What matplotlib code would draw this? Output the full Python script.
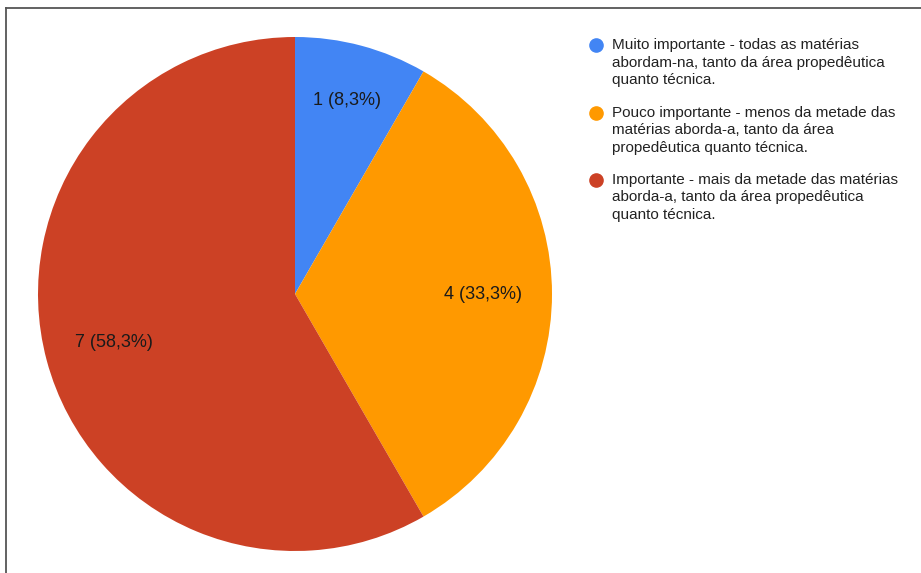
import matplotlib
matplotlib.use("Agg")
from matplotlib import pyplot as plt
from matplotlib.lines import Line2D

plt.rcParams['font.family'] = ['Liberation Sans', 'DejaVu Sans']

# respostas por nível de abordagem
categories = [
    ["Muito importante - todas as matérias",
     "abordam-na, tanto da área propedêutica",
     "quanto técnica."],
    ["Pouco importante - menos da metade das",
     "matérias aborda-a, tanto da área",
     "propedêutica quanto técnica."],
    ["Importante - mais da metade das matérias",
     "aborda-a, tanto da área propedêutica",
     "quanto técnica."],
]
counts = [1, 4, 7]
colors = ["#4285F4", "#FF9900", "#CC4125"]

W, H = 921, 573
fig = plt.figure(figsize=(W / 100, H / 100), dpi=100)

# moldura (só aparecem o topo e a esquerda)
fig.add_artist(Line2D([6 / W, 6 / W], [0, 1 - 8 / H], color="#555555", lw=1.3))
fig.add_artist(Line2D([6 / W, 1], [1 - 8 / H, 1 - 8 / H], color="#555555", lw=1.3))

cx, cy, r = 295, 294, 257
ax = fig.add_axes([(cx - r) / W, (H - cy - r) / H, 2 * r / W, 2 * r / H])
total = sum(counts)


def fmt(pct):
    n = int(round(pct * total / 100))
    return f"{n} ({pct:.1f}%)".replace(".", ",")


wedges, texts, autotexts = ax.pie(
    counts, colors=colors, startangle=90, counterclock=False,
    autopct=fmt, pctdistance=0.73, radius=1,
    textprops=dict(fontsize=13, color="#1a1a1a"),
    wedgeprops=dict(linewidth=0),
)
# fatia pequena: rótulo um pouco mais para fora
x, y = autotexts[0].get_position()
autotexts[0].set_position((x * 0.78 / 0.73, y * 0.78 / 0.73))
ax.set_xlim(-1, 1)
ax.set_ylim(-1, 1)
ax.axis("off")

# legenda à direita
first_lines = [45, 113, 180]
for lines, col, y0 in zip(categories, colors, first_lines):
    fig.add_artist(Line2D([596 / W], [1 - y0 / H], marker="o", markersize=9.5,
                          color=col, linestyle="none"))
    for i, line in enumerate(lines):
        fig.text(612 / W, 1 - (y0 + 17.5 * i) / H, line, fontsize=11,
                 color="#222222", va="center", ha="left")

fig.savefig("out.png", dpi=100)
